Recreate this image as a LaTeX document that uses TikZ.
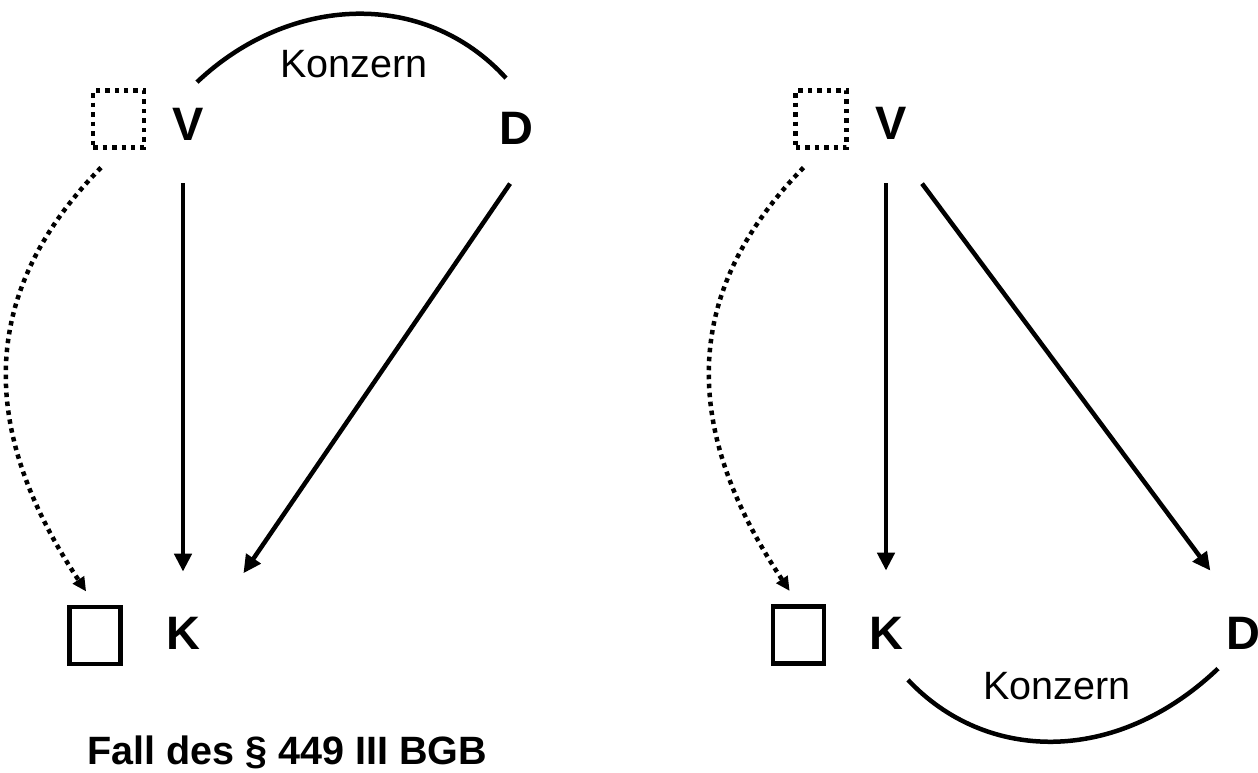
\documentclass[tikz,border=0pt]{standalone}
\usepackage{fontspec}
\setmainfont{Liberation Sans}
\usetikzlibrary{arrows.meta,calc}
\tikzset{every picture/.style={>={Triangle[length=0.36cm,width=0.34cm]}},
  letter/.style={font=\bfseries\fontsize{26.7}{32}\selectfont,inner sep=0pt},
  konz/.style={font=\fontsize{22.5}{27}\selectfont,inner sep=0pt},
  box/.style={draw,minimum width=1.02cm,minimum height=1.14cm,inner sep=0pt},
  dotbox/.style={box,dash pattern=on 0.09cm off 0.1cm},
  dotarrow/.style={dash pattern=on 0.09cm off 0.09cm,-{Triangle[length=0.28cm,width=0.26cm]}}}

\begin{document}
\begin{tikzpicture}[x=0.02cm,y=-0.02cm,line width=0.09cm]
  \useasboundingbox (0,0) rectangle (1258,772);
  % left: Fall des § 449 III BGB
  \node (sq1d) [dotbox] at (118.5,119) {};
  \node (v1) [letter] at (188,124.5) {V};
  \node (d1) [letter] at (516,128.5) {D};
  \node (sq1) [box] at (95,635.5) {};
  \node (k1) [letter] at (183,633.5) {K};
  \node (kz1) [konz] at (354,64.5) {Konzern};
  \node (title) [konz,font=\bfseries\fontsize{22.5}{27}\selectfont,anchor=base west] at (85,764) {Fall des § 449 III BGB};
  \draw [->, shorten <=0.81cm, shorten >=0.87cm] (v1.south -| k1) -- (k1.north);
  \draw [->, shorten <=0.89cm, shorten >=1.46cm] (d1.south east) -- (k1.east);
  \draw [dotarrow, shorten <=0.5cm, shorten >=0.32cm] (sq1d.south) .. controls +(-148,151) and +(-110,-165) .. (sq1.north);
  \draw ($(v1.north)+(9,-24)$) .. controls +(93,-88) and +(-81,-89) .. ($(d1.north)+(-10,-32)$);
  % right
  \node (sq2d) [dotbox] at (821,119) {};
  \node (v2) [letter] at (891,123.5) {V};
  \node (sq2) [box] at (798.5,635) {};
  \node (k2) [letter] at (886,633.5) {K};
  \node (d2) [letter] at (1243.5,633.5) {D};
  \node (kz2) [konz] at (1057,686) {Konzern};
  \draw [->, shorten <=0.83cm, shorten >=0.89cm] (v2.south -| k2) -- (k2.north);
  \draw [->, shorten <=1.04cm, shorten >=1.11cm] (v2.south) -- (d2.north);
  \draw [dotarrow, shorten <=0.5cm, shorten >=0.32cm] (sq2d.south) .. controls +(-148,151) and +(-110,-165) .. (sq2.north);
  \draw ($(k2.south)+(22,28)$) .. controls +(77,82) and +(-103,98) .. ($(d2.south)+(-25.5,16.7)$);
\end{tikzpicture}
\end{document}
